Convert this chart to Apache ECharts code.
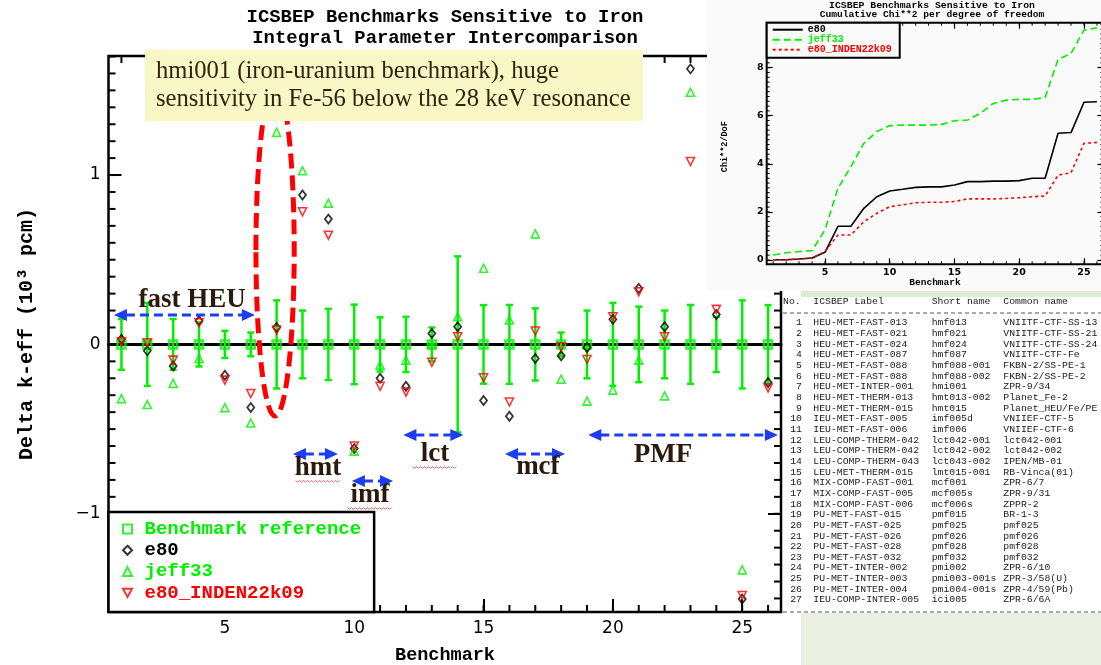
<!DOCTYPE html>
<html><head><meta charset="utf-8">
<script src="https://cdn.jsdelivr.net/npm/echarts@6/dist/echarts.min.js"></script>
<style>
html,body{margin:0;padding:0;background:#fff;overflow:hidden;}
#main{position:absolute;left:0;top:0;width:1101px;height:665px;}
#inset{position:absolute;left:707px;top:0;width:394px;height:291px;}
</style></head><body>
<div id="main"></div><div id="inset"></div>
<script>
// ---------------- data ----------------
const benchmarks = [1,2,3,4,5,6,7,8,9,10,11,12,13,14,15,16,17,18,19,20,21,22,23,24,25,26];
const refValue  = [0,0,0,0,0,0,0,0,0,0,0,0,0,0,0,0,0,0,0,0,0,0,0,0,0,0];
const refErr    = [0.15,0.245,0.15,0.13,0.08,0.07,0.26,0.2,0.21,0.235,0.16,0.163,0.1,0.52,0.232,0.233,0.213,0.07,0.2,0.245,0.223,0.2,0.233,0.163,0.26,0.232];
const e80       = [0.03,-0.038,-0.128,0.14,-0.182,-0.373,0.10,0.882,0.74,-0.615,-0.2,-0.247,0.065,0.104,-0.331,-0.424,-0.083,-0.067,-0.018,0.148,0.331,0.104,1.627,0.177,-1.503,-0.225];
const jeff33    = [-0.32,-0.355,-0.23,-0.083,-0.373,-0.464,1.252,1.025,0.834,-0.63,-0.122,-0.093,0.0,0.163,0.45,0.144,0.653,-0.205,-0.335,-0.27,-0.093,-0.304,1.489,0.41,-1.331,0.37];
const inden     = [0.015,0.01,-0.093,0.128,-0.211,-0.29,0.085,0.783,0.645,-0.60,-0.247,-0.282,-0.105,0.045,-0.197,-0.34,0.079,-0.014,-0.089,0.163,0.31,0.045,1.08,0.207,-1.483,-0.257];

// cumulative chi**2 per degree of freedom (inset)
const e80Chi   = [0.01,0.01,0.04,0.08,0.32,1.40,1.40,2.15,2.63,2.87,2.94,3.02,3.04,3.04,3.12,3.26,3.26,3.28,3.28,3.30,3.40,3.40,5.27,5.30,6.56,6.58];
const jeffChi  = [0.21,0.30,0.35,0.39,1.25,2.98,3.88,4.85,5.34,5.59,5.61,5.61,5.61,5.64,5.79,5.82,6.10,6.51,6.65,6.68,6.68,6.76,8.34,8.59,9.56,9.66];
const indenChi = [0.01,0.01,0.04,0.08,0.35,1.04,1.04,1.59,1.94,2.22,2.29,2.38,2.40,2.40,2.43,2.54,2.54,2.54,2.56,2.59,2.63,2.66,3.53,3.63,4.85,4.89];

// tick values
const X_MAJOR = [5,10,15,20,25];
const Y_MAJOR = [-1,0,1];
const X_MINOR = []; for (let k = 1; k <= 26; k++) X_MINOR.push(k);
const Y_MINOR = []; for (let k = -15; k <= 17; k++) Y_MINOR.push(Math.round(k) / 10);
const INSET_Y_MAJOR = [0,2,4,6,8];
const INSET_Y_MINOR = []; for (let k = 0; k <= 49; k++) INSET_Y_MINOR.push(Math.round(k * 2) / 10);

// table
const tableNo = [1,2,3,4,5,6,7,8,9,10,11,12,13,14,15,16,17,18,19,20,21,22,23,24,25,26,27];
const tableLabel = ['HEU-MET-FAST-013','HEU-MET-FAST-021','HEU-MET-FAST-024','HEU-MET-FAST-087','HEU-MET-FAST-088','HEU-MET-FAST-088','HEU-MET-INTER-001','HEU-MET-THERM-013','HEU-MET-THERM-015','IEU-MET-FAST-005','IEU-MET-FAST-006','LEU-COMP-THERM-042','LEU-COMP-THERM-042','LEU-COMP-THERM-043','LEU-MET-THERM-015','MIX-COMP-FAST-001','MIX-COMP-FAST-005','MIX-COMP-FAST-006','PU-MET-FAST-015','PU-MET-FAST-025','PU-MET-FAST-026','PU-MET-FAST-028','PU-MET-FAST-032','PU-MET-INTER-002','PU-MET-INTER-003','PU-MET-INTER-004','IEU-COMP-INTER-005'];
const tableShort = ['hmf013','hmf021','hmf024','hmf087','hmf088-001','hmf088-002','hmi001','hmt013-002','hmt015','imf005d','imf006','lct042-001','lct042-002','lct043-002','lmt015-001','mcf001','mcf005s','mcf006s','pmf015','pmf025','pmf026','pmf028','pmf032','pmi002','pmi003-001s','pmi004-001s','ici005'];
const tableCommon = ['VNIITF-CTF-SS-13','VNIITF-CTF-SS-21','VNIITF-CTF-SS-24','VNIITF-CTF-Fe','FKBN-2/SS-PE-1','FKBN-2/SS-PE-2','ZPR-9/34','Planet_Fe-2','Planet_HEU/Fe/PE','VNIIEF-CTF-5','VNIIEF-CTF-6','lct042-001','lct042-002','IPEN/MB-01','RB-Vinca(01)','ZPR-6/7','ZPR-9/31','ZPPR-2','BR-1-3','pmf025','pmf026','pmf028','pmf032','ZPR-6/10','ZPR-3/58(U)','ZPR-4/59(Pb)','ZPR-6/6A'];

// annotations (data coordinates of the main plot)
const groupArrows = [
  {label:'fast HEU', from:0.71, to:6.16, y:0.174, lx:3.73, ly:0.262, squiggle:false},
  {label:'hmt', from:7.63, to:9.37, y:-0.647, lx:8.6, ly:-0.73, squiggle:true},
  {label:'imf', from:9.91, to:11.5, y:-0.807, lx:10.61, ly:-0.89, squiggle:true},
  {label:'lct', from:11.9, to:14.22, y:-0.535, lx:13.12, ly:-0.648, squiggle:true},
  {label:'mcf', from:15.83, to:18.15, y:-0.647, lx:17.1, ly:-0.723, squiggle:false},
  {label:'PMF', from:19.05, to:26.38, y:-0.535, lx:21.94, ly:-0.653, squiggle:false}
];
const highlight = {cx:6.94, cy:0.557, rx:0.74, ry:0.98};

// ---------------- styles ----------------
const GREEN = '#00f000', RED = '#ff0000', BLUE = '#1e3cf0', BROWN = '#2b1a0c';
const MONO = '"Liberation Mono","DejaVu Sans Mono",monospace';
const SANS = '"DejaVu Sans",sans-serif';
const SERIF = '"Liberation Serif","DejaVu Serif",serif';
const X_MIN = 0.5, X_MAX = 26.5, Y_MIN = -1.58, Y_MAX = 1.703;

function minorTicks(dim, values, len, lw, other) {
  return {
    type:'custom', silent:true, clip:false, z:5,
    data: values.map(v => dim === 'x' ? [v, other] : [other, v]),
    renderItem(params, api) {
      const cs = params.coordSys;
      const p = api.coord([api.value(0), api.value(1)]);
      const st = {stroke:'#000', lineWidth:lw};
      if (dim === 'x') {
        return {type:'group', children:[
          {type:'line', shape:{x1:p[0], y1:cs.y + cs.height, x2:p[0], y2:cs.y + cs.height - len}, style:st},
          {type:'line', shape:{x1:p[0], y1:cs.y, x2:p[0], y2:cs.y + len}, style:st}
        ]};
      }
      return {type:'group', children:[
        {type:'line', shape:{x1:cs.x, y1:p[1], x2:cs.x + len, y2:p[1]}, style:st},
        {type:'line', shape:{x1:cs.x + cs.width, y1:p[1], x2:cs.x + cs.width - len, y2:p[1]}, style:st}
      ]};
    }
  };
}

const tickStyle = {color:'#000', width:2};
const mainOption = {
  animation:false,
  backgroundColor:'#ffffff',
  grid:{left:108.5, top:56, width:672.5, height:556, show:true, borderColor:'#000', borderWidth:2.5,
        backgroundColor:'rgba(0,0,0,0)', containLabel:false, outerBoundsMode:'none'},
  xAxis:[
    {type:'value', min:X_MIN, max:X_MAX, position:'bottom', splitLine:{show:false},
     axisLine:{show:false, onZero:false},
     axisTick:{show:true, inside:true, length:13, customValues:X_MAJOR, lineStyle:tickStyle},
     axisLabel:{customValues:X_MAJOR, margin:8, color:'#000', fontSize:17, fontFamily:SANS}},
    {type:'value', min:X_MIN, max:X_MAX, position:'top', splitLine:{show:false},
     axisLine:{show:false, onZero:false},
     axisTick:{show:true, inside:true, length:13, customValues:X_MAJOR, lineStyle:tickStyle},
     axisLabel:{show:false}},
    {type:'value', min:X_MIN, max:X_MAX, position:'bottom', splitLine:{show:false},
     axisLine:{show:true, onZero:true, onZeroAxisIndex:0, lineStyle:{color:'#000', width:3}},
     axisTick:{show:false}, axisLabel:{show:false}}
  ],
  yAxis:[
    {type:'value', min:Y_MIN, max:Y_MAX, position:'left', splitLine:{show:false},
     axisLine:{show:false, onZero:false},
     axisTick:{show:true, inside:true, length:13, customValues:Y_MAJOR, lineStyle:tickStyle},
     axisLabel:{customValues:Y_MAJOR, margin:8, color:'#000', fontSize:17, fontFamily:SANS,
                formatter: v => v < 0 ? '\u2212' + Math.abs(v) : String(v)}},
    {type:'value', min:Y_MIN, max:Y_MAX, position:'right', splitLine:{show:false},
     axisLine:{show:false, onZero:false},
     axisTick:{show:true, inside:true, length:13, customValues:Y_MAJOR, lineStyle:tickStyle},
     axisLabel:{show:false}}
  ],
  legend:{
    orient:'vertical', left:108.5, top:512, itemWidth:9, itemHeight:9, itemGap:2.3,
    padding:[7.5, 13, 9.5, 13.5], backgroundColor:'#fff', borderColor:'#000', borderWidth:2.5, borderRadius:0,
    selectedMode:false, z:20,
    textStyle:{fontFamily:MONO, fontWeight:'bold', fontSize:19, lineHeight:19, padding:[0,0,0,7.5]},
    data:[
      {name:'Benchmark reference', textStyle:{color:GREEN}},
      {name:'e80', textStyle:{color:'#000'}},
      {name:'jeff33', textStyle:{color:GREEN}},
      {name:'e80_INDEN22k09', icon:'path://M0,0L10,0L5,9Z', textStyle:{color:RED}}
    ]
  },
  series:[
    {
      type:'custom', name:'uncertainty', silent:true, z:2,
      encode:{x:0, y:[1,2]},
      data: benchmarks.map((b, i) => [b, refValue[i] - refErr[i], refValue[i] + refErr[i]]),
      renderItem(params, api) {
        const x = api.value(0);
        const lo = api.coord([x, api.value(1)]), hi = api.coord([x, api.value(2)]);
        const c = 3.5, st = {stroke:GREEN, lineWidth:2.5};
        return {type:'group', children:[
          {type:'line', shape:{x1:lo[0], y1:lo[1], x2:hi[0], y2:hi[1]}, style:st},
          {type:'line', shape:{x1:hi[0]-c, y1:hi[1], x2:hi[0]+c, y2:hi[1]}, style:st},
          {type:'line', shape:{x1:lo[0]-c, y1:lo[1], x2:lo[0]+c, y2:lo[1]}, style:st}
        ]};
      }
    },
    minorTicks('x', X_MINOR, 7, 2, 0),
    minorTicks('y', Y_MINOR, 7, 2, 1),
    {name:'Benchmark reference', type:'scatter', z:3, symbol:'rect', symbolSize:8,
     itemStyle:{color:'rgba(255,255,255,0)', borderColor:GREEN, borderWidth:2.5},
     data: benchmarks.map((b, i) => [b, refValue[i]])},
    {name:'e80', type:'scatter', z:4, symbol:'diamond', symbolSize:[7,9],
     itemStyle:{color:'rgba(255,255,255,0)', borderColor:'#000', borderWidth:1.8},
     data: benchmarks.map((b, i) => [b, e80[i]])},
    {name:'jeff33', type:'scatter', z:4, symbol:'triangle', symbolSize:8,
     itemStyle:{color:'rgba(255,255,255,0)', borderColor:GREEN, borderWidth:1.6},
     data: benchmarks.map((b, i) => [b, jeff33[i]])},
    {name:'e80_INDEN22k09', type:'scatter', z:4, symbol:'triangle', symbolRotate:180, symbolSize:8,
     itemStyle:{color:'rgba(255,255,255,0)', borderColor:RED, borderWidth:1.6},
     data: benchmarks.map((b, i) => [b, inden[i]])}
  ]
};

const chart = echarts.init(document.getElementById('main'), null, {renderer:'canvas', width:1101, height:665});
chart.setOption(mainOption);
const px = (x, y) => chart.convertToPixel({xAxisIndex:0, yAxisIndex:0}, [x, y]);

function txt(text, x, y, font, fill, align, valign, extra) {
  return Object.assign({type:'text', z:41, silent:true,
    style:{text:text, x:x, y:y, font:font, fill:fill, align:align, verticalAlign:valign,
           textAlign:align, textVerticalAlign:valign}}, extra || {});
}

const els = [];
// titles and axis names
els.push(txt('ICSBEP Benchmarks Sensitive to Iron', 445, 17, 'bold 18.9px ' + MONO, '#000', 'center', 'middle'));
els.push(txt('Integral Parameter Intercomparison', 445, 38, 'bold 18.9px ' + MONO, '#000', 'center', 'middle'));
els.push(txt('Benchmark', 445, 655, 'bold 18.5px ' + MONO, '#000', 'center', 'middle'));
els.push(txt('Delta k-eff (10\u00b3 pcm)', 0, 0, 'bold 20px ' + MONO, '#000', 'center', 'middle', {x:27, y:334, rotation:Math.PI/2}));

// highlight ellipse
const ec = px(highlight.cx, highlight.cy);
const er = px(highlight.cx + highlight.rx, highlight.cy + highlight.ry);
els.push({type:'ellipse', z:30, silent:true,
  shape:{cx:ec[0], cy:ec[1], rx:Math.abs(er[0]-ec[0]), ry:Math.abs(er[1]-ec[1])},
  style:{fill:'none', stroke:RED, lineWidth:5, lineDash:[15,7]}});

// group arrows
groupArrows.forEach(g => {
  const a = px(g.from, g.y), b = px(g.to, g.y);
  const head = 13, hw = 6;
  els.push({type:'line', z:31, silent:true, shape:{x1:a[0]+head-1, y1:a[1], x2:b[0]-head+1, y2:b[1]},
            style:{stroke:BLUE, lineWidth:3, lineDash:[9,5]}});
  els.push({type:'polygon', z:31, silent:true, shape:{points:[[a[0],a[1]],[a[0]+head,a[1]-hw],[a[0]+head,a[1]+hw]]}, style:{fill:BLUE}});
  els.push({type:'polygon', z:31, silent:true, shape:{points:[[b[0],b[1]],[b[0]-head,b[1]-hw],[b[0]-head,b[1]+hw]]}, style:{fill:BLUE}});
  const l = px(g.lx, g.ly);
  els.push(txt(g.label, l[0], l[1], 'bold 27px ' + SERIF, BROWN, 'center', 'middle', {z:32}));
  if (g.squiggle) {
    const w = g.label.length * 15, pts = [];
    for (let k = 0; k <= w; k += 2) pts.push([l[0] - w/2 + k, l[1] + 13 + ((k/2) % 2 ? 1 : -0.5)]);
    els.push({type:'polyline', z:32, silent:true, shape:{points:pts}, style:{stroke:'#e06a6a', lineWidth:1, fill:null}});
  }
});

// yellow note box
els.push({type:'rect', z:40, silent:true, shape:{x:145, y:50, width:498, height:71}, style:{fill:'#faf7c6'}});
els.push(txt('hmi001 (iron-uranium benchmark), huge', 156, 71.7, '24.6px ' + SERIF, '#2e2410', 'left', 'middle'));
els.push(txt('sensitivity in Fe-56 below the 28 keV resonance', 156, 100, '24.6px ' + SERIF, '#2e2410', 'left', 'middle'));

// table
els.push({type:'rect', z:50, silent:true, shape:{x:783, y:288, width:318, height:325}, style:{fill:'#ffffff'}});
els.push({type:'rect', z:50, silent:true, shape:{x:801, y:291, width:300, height:6}, style:{fill:'#dfead4'}});
els.push({type:'rect', z:50, silent:true, shape:{x:801, y:613, width:300, height:52}, style:{fill:'#e9f0e1'}});
els.push({type:'line', z:51, silent:true, shape:{x1:783, y1:313, x2:1101, y2:313}, style:{stroke:'#555', lineWidth:1, lineDash:[4,3]}});
els.push({type:'line', z:51, silent:true, shape:{x1:783, y1:612, x2:1101, y2:612}, style:{stroke:'#555', lineWidth:1, lineDash:[4,3]}});
const TF = '9.8px ' + MONO, TC = '#1a1a1a';
const rowH = 10.66, row0 = 322.7 - rowH/2;
els.push(Object.assign(txt('No.', 783, 301.7, TF, TC, 'left', 'middle'), {z:52}));
els.push(Object.assign(txt('ICSBEP Label', 813.3, 301.7, TF, TC, 'left', 'middle'), {z:52}));
els.push(Object.assign(txt('Short name', 931.7, 301.7, TF, TC, 'left', 'middle'), {z:52}));
els.push(Object.assign(txt('Common name', 1003.3, 301.7, TF, TC, 'left', 'middle'), {z:52}));
function col(list, x, align) {
  const e = txt(list.join('\n'), x, row0, TF, TC, align, 'top');
  e.z = 52; e.style.lineHeight = rowH;
  return e;
}
els.push(col(tableNo.map(String), 802, 'right'));
els.push(col(tableLabel, 813.3, 'left'));
els.push(col(tableShort, 931.7, 'left'));
els.push(col(tableCommon, 1003.3, 'left'));

chart.setOption({graphic:{elements:els}});

// ---------------- inset chart ----------------
const inset = echarts.init(document.getElementById('inset'), null, {renderer:'canvas', width:394, height:291});
const iTick = {color:'#000', width:1.2};
inset.setOption({
  animation:false,
  backgroundColor:'#fafafa',
  grid:{left:59.7, top:22.7, width:336.7, height:241.6, show:true, borderColor:'#000', borderWidth:2,
        backgroundColor:'rgba(0,0,0,0)', containLabel:false, outerBoundsMode:'none'},
  xAxis:[
    {type:'value', min:0.5, max:26.5, position:'bottom', splitLine:{show:false}, axisLine:{show:false, onZero:false},
     axisTick:{inside:true, length:6, customValues:X_MAJOR, lineStyle:iTick},
     axisLabel:{customValues:X_MAJOR, margin:3.5, color:'#000', fontSize:9.5, fontWeight:'bold', fontFamily:SANS}},
    {type:'value', min:0.5, max:26.5, position:'top', splitLine:{show:false}, axisLine:{show:false, onZero:false},
     axisTick:{inside:true, length:6, customValues:X_MAJOR, lineStyle:iTick}, axisLabel:{show:false}}
  ],
  yAxis:[
    {type:'value', min:-0.18, max:9.87, position:'left', splitLine:{show:false}, axisLine:{show:false, onZero:false},
     axisTick:{inside:true, length:6, customValues:INSET_Y_MAJOR, lineStyle:iTick},
     axisLabel:{customValues:INSET_Y_MAJOR, margin:3, color:'#000', fontSize:9.5, fontWeight:'bold', fontFamily:SANS}},
    {type:'value', min:-0.18, max:9.87, position:'right', splitLine:{show:false}, axisLine:{show:false, onZero:false},
     axisTick:{inside:true, length:6, customValues:INSET_Y_MAJOR, lineStyle:iTick}, axisLabel:{show:false}}
  ],
  legend:{
    orient:'vertical', left:59.7, top:22.7, itemWidth:30, itemHeight:8, itemGap:0,
    padding:[2, 2, 3, 5], backgroundColor:'#fafafa', borderColor:'#000', borderWidth:2, borderRadius:0,
    selectedMode:false, z:20,
    itemStyle:{color:'rgba(0,0,0,0)', borderColor:'rgba(0,0,0,0)', borderWidth:0},
    textStyle:{fontFamily:MONO, fontSize:10, lineHeight:8, fontWeight:'bold'},
    data:[
      {name:'e80 ', textStyle:{color:'#000'}},
      {name:'jeff33 ', textStyle:{color:GREEN}},
      {name:'e80_INDEN22k09 ', textStyle:{color:RED}}
    ]
  },
  series:[
    minorTicks('x', X_MINOR, 3, 1, 0),
    minorTicks('y', INSET_Y_MINOR, 3, 1, 1),
    {name:'e80 ', type:'line', symbol:'none', showSymbol:false, z:3,
     lineStyle:{color:'#000', width:1.6, type:'solid'}, itemStyle:{color:'#000'},
     data: benchmarks.map((b, i) => [b, e80Chi[i]])},
    {name:'jeff33 ', type:'line', symbol:'none', showSymbol:false, z:3,
     lineStyle:{color:GREEN, width:1.6, type:[7,4]}, itemStyle:{color:GREEN},
     data: benchmarks.map((b, i) => [b, jeffChi[i]])},
    {name:'e80_INDEN22k09 ', type:'line', symbol:'none', showSymbol:false, z:3,
     lineStyle:{color:RED, width:1.6, type:[3,3]}, itemStyle:{color:RED},
     data: benchmarks.map((b, i) => [b, indenChi[i]])}
  ],
  graphic:{elements:[
    txt('ICSBEP Benchmarks Sensitive to Iron', 225, 5.7, 'bold 9.8px ' + MONO, '#000', 'center', 'middle'),
    txt('Cumulative Chi**2 per degree of freedom', 225, 15, 'bold 9.6px ' + MONO, '#000', 'center', 'middle'),
    txt('Benchmark', 228, 283, 'bold 9.5px ' + MONO, '#000', 'center', 'middle'),
    txt('Chi**2/DoF', 0, 0, 'bold 8.5px ' + MONO, '#000', 'center', 'middle', {x:18, y:146.7, rotation:Math.PI/2})
  ]}
});
</script>
</body></html>
